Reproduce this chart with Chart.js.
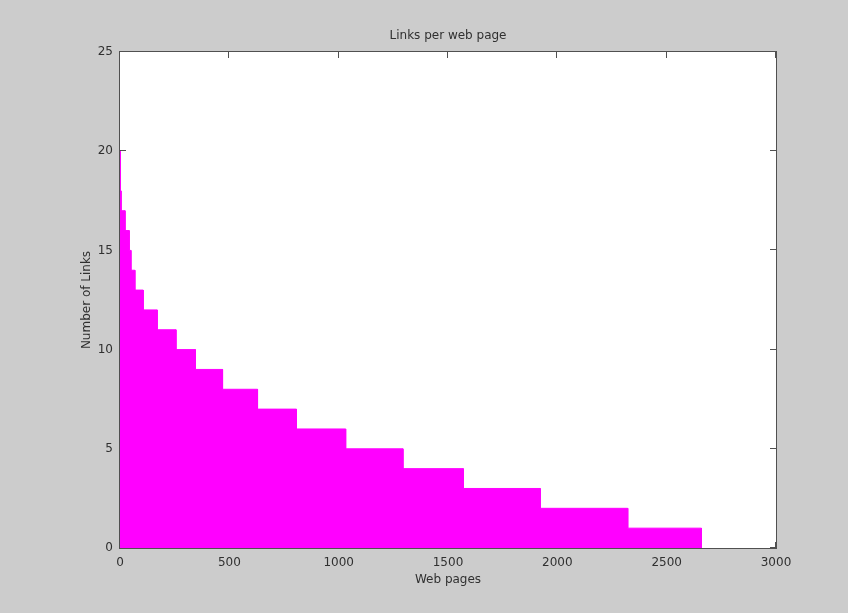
<!DOCTYPE html>
<html>
<head>
<meta charset="utf-8">
<script src="https://cdn.jsdelivr.net/npm/chart.js@4/dist/chart.umd.min.js"></script>
<style>
  html, body { margin: 0; padding: 0; background: #cccccc; }
  #wrap { width: 848px; height: 613px; position: relative; }
  canvas { display: block; }
</style>
</head>
<body>
<div id="wrap"><canvas id="c" width="848" height="613"></canvas></div>
<script>
// ---- data ----
const linkCounts = [20, 19, 18, 17, 16, 15, 14, 13, 12, 11, 10, 9, 8, 7, 6, 5, 4, 3, 2, 1];
const stepEnds   = [1, 3, 5, 23, 42, 50, 68, 106, 170, 256, 345, 469, 629, 807, 1032, 1294, 1570, 1922, 2322, 2659];
const xTicks = [0, 500, 1000, 1500, 2000, 2500, 3000];
const yTicks = [0, 5, 10, 15, 20, 25];
const chartTitle = 'Links per web page';
const xAxisTitle = 'Web pages';
const yAxisTitle = 'Number of Links';

// build step outline from the arrays
const points = [];
linkCounts.forEach((v, i) => {
  const start = i === 0 ? 0 : stepEnds[i - 1];
  points.push({ x: start, y: v });
  points.push({ x: stepEnds[i], y: v });
});
points.push({ x: stepEnds[stepEnds.length - 1], y: 0 });

const FONT = { family: 'DejaVu Sans', size: 12 };
const TEXT = '#303030';
const AXIS = '#505050';

const matlabAxes = {
  id: 'matlabAxes',
  beforeDraw(chart) {
    const { ctx, chartArea: a } = chart;
    ctx.save();
    ctx.fillStyle = '#ffffff';
    ctx.fillRect(a.left, a.top, a.right - a.left, a.bottom - a.top);
    ctx.restore();
  },
  beforeDatasetsDraw(chart) {
    const { ctx, chartArea: a, scales } = chart;
    const len = 6;
    ctx.save();
    ctx.strokeStyle = AXIS;
    ctx.lineWidth = 1;
    ctx.beginPath();
    xTicks.forEach(v => {
      const px = Math.round(scales.x.getPixelForValue(v)) - 0.5;
      ctx.moveTo(px, a.bottom); ctx.lineTo(px, a.bottom - len);
      ctx.moveTo(px, a.top); ctx.lineTo(px, a.top + len);
    });
    yTicks.forEach(v => {
      const py = Math.round(scales.y.getPixelForValue(v)) - 0.5;
      ctx.moveTo(a.left, py); ctx.lineTo(a.left + len, py);
      ctx.moveTo(a.right, py); ctx.lineTo(a.right - len, py);
    });
    ctx.stroke();
    ctx.restore();
  },
  afterDatasetsDraw(chart) {
    const { ctx, chartArea: a } = chart;
    ctx.save();
    ctx.strokeStyle = AXIS;
    ctx.lineWidth = 1;
    ctx.strokeRect(a.left - 0.5, a.top - 0.5, a.right - a.left + 1, a.bottom - a.top + 1);
    ctx.restore();
  }
};

const plainNumber = v => String(v);

new Chart(document.getElementById('c'), {
  type: 'line',
  data: {
    datasets: [{
      data: points,
      parsing: false,
      xAxisID: 'x',
      yAxisID: 'y',
      fill: 'origin',
      backgroundColor: '#ff00ff',
      borderColor: '#ff00ff',
      borderWidth: 1,
      pointRadius: 0,
      tension: 0
    }]
  },
  options: {
    responsive: false,
    animation: false,
    devicePixelRatio: 1,
    layout: { padding: { left: 0, right: 72, top: 0, bottom: 26 } },
    plugins: {
      legend: { display: false },
      tooltip: { enabled: false },
      title: { display: false }
    },
    scales: {
      x: {
        type: 'linear',
        position: 'bottom',
        min: 0, max: 3000,
        afterBuildTicks: s => { s.ticks = xTicks.map(v => ({ value: v })); },
        afterFit: s => { s.height = 39; },
        grid: { display: false, drawTicks: false, tickLength: 0 },
        border: { display: false },
        ticks: { color: TEXT, font: FONT, padding: 8, maxRotation: 0, autoSkip: false, callback: plainNumber },
        title: { display: true, text: xAxisTitle, color: TEXT, font: FONT, padding: 0 }
      },
      xTop: {
        type: 'linear',
        position: 'top',
        min: 0, max: 3000,
        afterFit: s => { s.height = 52; },
        grid: { display: false, drawTicks: false, tickLength: 0 },
        border: { display: false },
        ticks: { display: false },
        title: { display: true, text: chartTitle, color: TEXT, font: FONT, padding: { top: 29, bottom: 0 } }
      },
      y: {
        type: 'linear',
        min: 0, max: 25,
        afterBuildTicks: s => { s.ticks = yTicks.map(v => ({ value: v })); },
        afterFit: s => { s.width = 120; },
        grid: { display: false, drawTicks: false, tickLength: 0 },
        border: { display: false },
        ticks: { color: TEXT, font: FONT, padding: 7, autoSkip: false, callback: plainNumber },
        title: { display: true, text: yAxisTitle, color: TEXT, font: FONT, padding: { top: 80, bottom: 0 } }
      }
    }
  },
  plugins: [matlabAxes]
});
</script>
</body>
</html>
